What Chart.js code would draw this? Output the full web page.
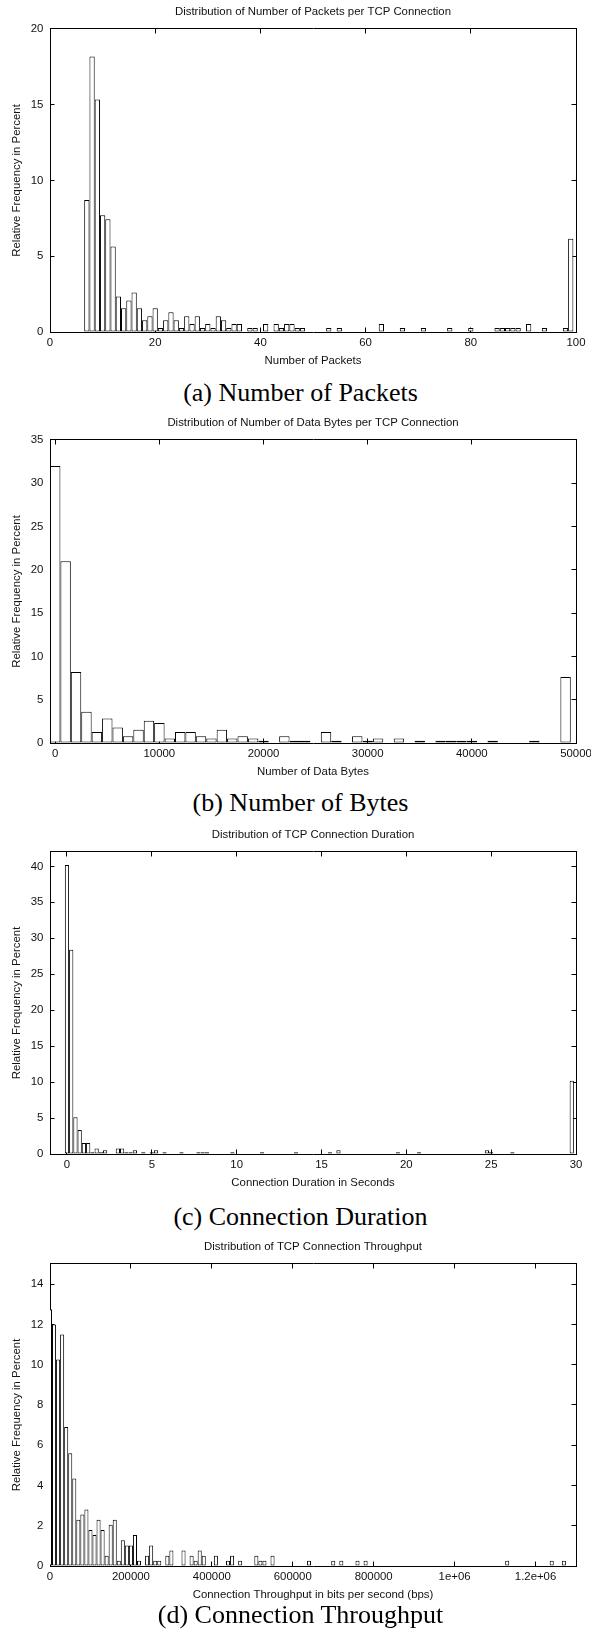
<!DOCTYPE html>
<html>
<head>
<meta charset="utf-8">
<script src="https://cdn.jsdelivr.net/npm/chart.js@4.4.1/dist/chart.umd.min.js"></script>
<style>
  body { margin: 0; background: #fff; width: 591px; height: 1637px; position: relative; overflow: hidden; }
  canvas { position: absolute; left: 0; }
  .cap { position: absolute; left: 5px; width: 591px; height: 30px; line-height: 30px; text-align: center;
         font-family: "Liberation Serif", "Times New Roman", serif; font-size: 26px; color: #000; }
</style>
</head>
<body>
<script>
// (a) packets per connection, bins of 1 packet
const packetBins = [7, 8, 9, 10, 11, 12, 13, 14, 15, 16, 17, 18, 19, 20, 21, 22, 23, 24, 25, 26, 27, 28, 29, 30,
  31, 32, 33, 34, 35, 36, 38, 39, 41, 43, 44, 45, 46, 47, 48, 53, 55, 63, 67, 71, 76, 80, 85, 86, 87, 88, 89,
  91, 94, 98, 99];
const packetPct = [8.72, 18.18, 15.35, 7.7, 7.45, 5.65, 2.34, 1.56, 2.08, 2.6, 1.56, 0.78, 1.04, 1.56, 0.26, 0.78,
  1.3, 0.78, 0.26, 1.04, 0.52, 1.04, 0.26, 0.52, 0.26, 1.04, 0.78, 0.26, 0.52, 0.52, 0.26, 0.26, 0.52, 0.52,
  0.26, 0.52, 0.52, 0.26, 0.26, 0.26, 0.26, 0.52, 0.26, 0.26, 0.26, 0.26, 0.26, 0.26, 0.26, 0.26, 0.26,
  0.52, 0.26, 0.26, 6.15];
const packetTicksX = [0, 20, 40, 60, 80, 100];
const packetTicksY = [0, 5, 10, 15, 20];

// (b) data bytes per connection, bins of 1000 bytes
const byteBins = [0, 1000, 2000, 3000, 4000, 5000, 6000, 7000, 8000, 9000, 10000, 11000, 12000, 13000, 14000,
  15000, 16000, 17000, 18000, 19000, 20000, 22000, 23000, 24000, 26000, 27000, 29000, 30000, 31000, 33000,
  35000, 37000, 38000, 39000, 40000, 42000, 46000, 49000];
const bytePct = [32.0, 21.0, 8.2, 3.6, 1.28, 2.82, 1.78, 0.77, 1.54, 2.56, 2.3, 0.51, 1.28, 1.28, 0.77,
  0.51, 1.54, 0.51, 0.77, 0.51, 0.26, 0.77, 0.26, 0.26, 1.28, 0.26, 0.77, 0.26, 0.51, 0.51,
  0.26, 0.26, 0.26, 0.26, 0.26, 0.26, 0.26, 7.63];
const byteTicksX = [0, 10000, 20000, 30000, 40000, 50000];
const byteTicksY = [0, 5, 10, 15, 20, 25, 30, 35];

// (c) connection duration, bins of 0.25 s
const durationBins = [0, 0.25, 0.5, 0.75, 1.0, 1.25, 1.5, 1.75, 2.0, 2.25, 3.0, 3.25, 3.5, 3.75, 4.0, 4.5, 5.0,
  5.25, 5.75, 6.75, 7.75, 8.0, 8.25, 9.75, 11.5, 13.5, 15.5, 16.0, 19.5, 20.75, 24.75, 25.0, 26.25, 29.75];
const durationPct = [40.2, 28.4, 5.12, 3.33, 1.54, 1.54, 0.26, 0.77, 0.26, 0.51, 0.77, 0.77, 0.26, 0.26, 0.51, 0.26, 0.26,
  0.51, 0.26, 0.26, 0.26, 0.26, 0.26, 0.26, 0.26, 0.26, 0.26, 0.51, 0.26, 0.26, 0.51, 0.26, 0.26, 10.2];
const durationTicksX = [0, 5, 10, 15, 20, 25, 30];
const durationTicksY = [0, 5, 10, 15, 20, 25, 30, 35, 40];

// (d) throughput, bins of 10000 bps
const throughputBins = [0, 10000, 20000, 30000, 40000, 50000, 60000, 70000, 80000, 90000, 100000, 110000, 120000,
  130000, 140000, 150000, 160000, 170000, 180000, 190000, 200000, 210000, 220000, 240000, 250000, 260000, 270000,
  290000, 300000, 330000, 350000, 360000, 370000, 380000, 410000, 440000, 450000, 470000, 510000, 520000, 530000,
  550000, 640000, 700000, 720000, 760000, 780000, 1130000, 1240000, 1270000];
const throughputPct = [12.75, 12.0, 10.25, 11.5, 6.9, 5.6, 4.35, 2.3, 2.56, 2.8, 1.79, 1.54, 2.3,
  1.79, 0.51, 2.05, 2.3, 0.26, 1.28, 1.02, 1.02, 1.54, 0.26, 0.51, 1.02, 0.26, 0.26,
  0.51, 0.77, 0.77, 0.51, 0.26, 0.77, 0.51, 0.51, 0.26, 0.51, 0.26, 0.51, 0.26, 0.26,
  0.51, 0.26, 0.26, 0.26, 0.26, 0.26, 0.26, 0.26, 0.26];
const throughputTicksX = [0, 200000, 400000, 600000, 800000, 1000000, 1200000];
const throughputTicksY = [0, 2, 4, 6, 8, 10, 12, 14];

const yTitle = 'Relative Frequency in Percent';

const panels = [
  { title: 'Distribution of Number of Packets per TCP Connection', xTitle: 'Number of Packets',
    caption: '(a) Number of Packets', bins: packetBins, pct: packetPct, xTicks: packetTicksX, yTicks: packetTicksY,
    xMin: 0, xMax: 100, yMax: 20, top: 0, plotH: 303, capY: 393 },
  { title: 'Distribution of Number of Data Bytes per TCP Connection', xTitle: 'Number of Data Bytes',
    caption: '(b) Number of Bytes', bins: byteBins, pct: bytePct, xTicks: byteTicksX, yTicks: byteTicksY,
    xMin: -500, xMax: 50000, yMax: 35, top: 411, plotH: 303, capY: 803 },
  { title: 'Distribution of TCP Connection Duration', xTitle: 'Connection Duration in Seconds',
    caption: '(c) Connection Duration', bins: durationBins, pct: durationPct, xTicks: durationTicksX, yTicks: durationTicksY,
    xMin: -1, xMax: 30, yMax: 42, top: 823, plotH: 302, capY: 1217 },
  { title: 'Distribution of TCP Connection Throughput', xTitle: 'Connection Throughput in bits per second (bps)',
    caption: '(d) Connection Throughput', bins: throughputBins, pct: throughputPct, xTicks: throughputTicksX, yTicks: throughputTicksY,
    xMin: 0, xMax: 1300000, yMax: 15, top: 1235, plotH: 302, capY: 1615 }
];

const INK = '#111';
const font = { family: '"Liberation Sans", Arial, Helvetica, sans-serif', size: 11.4, weight: 'normal' };

// gnuplot style numbers: 1e+06, 1.2e+06
function gnuLabel(v) {
  if (v >= 1e6) return (v / 1e6) + 'e+06';
  return String(v);
}

function frameGrid() {
  return { display: true, drawOnChartArea: false, drawTicks: true, tickLength: -4.5, color: '#000', lineWidth: 1, offset: false };
}
const frameBorder = { display: true, color: '#000', width: 1 };

function fixTicks(list) {
  return s => { s.ticks = list.map(v => ({ value: v })); };
}

panels.forEach(p => {
  const cv = document.createElement('canvas');
  cv.width = 591;
  cv.height = 29 + p.plotH + 40;
  cv.style.top = p.top + 'px';
  document.body.appendChild(cv);

  const cap = document.createElement('div');
  cap.className = 'cap';
  cap.style.top = (p.capY - 15) + 'px';
  cap.textContent = p.caption;
  document.body.appendChild(cap);

  const xRange = { type: 'linear', min: p.xMin, max: p.xMax, offset: false, afterBuildTicks: fixTicks(p.xTicks) };
  const yRange = { type: 'linear', min: 0, max: p.yMax, afterBuildTicks: fixTicks(p.yTicks) };

  new Chart(cv, {
    type: 'bar',
    data: {
      datasets: [{
        data: p.bins.map((b, i) => ({ x: b, y: p.pct[i] })),
        backgroundColor: '#fff',
        borderColor: '#000',
        borderWidth: 1,
        borderSkipped: false,
        categoryPercentage: 1,
        barPercentage: 1,
        inflateAmount: 0,
        clip: 0
      }]
    },
    options: {
      responsive: false,
      animation: false,
      events: [],
      layout: { padding: { left: 0, right: 15, top: 0, bottom: 0 } },
      plugins: {
        legend: { display: false },
        tooltip: { enabled: false },
        title: { display: true, text: p.title, fullSize: false, font: font, color: INK,
                 padding: { top: 4.6, bottom: 10.7 } }
      },
      scales: {
        x: Object.assign({}, xRange, {
          position: 'bottom',
          grid: frameGrid(),
          border: frameBorder,
          ticks: { autoSkip: false, maxRotation: 0, padding: 8.6, font: font, color: INK, callback: v => gnuLabel(v) },
          title: { display: true, text: p.xTitle, font: font, color: INK, padding: { top: 0, bottom: 4.5 } },
          afterFit: s => { s.height = 40; s.paddingLeft = 0; s.paddingRight = 0; }
        }),
        x2: Object.assign({}, xRange, {
          position: 'top',
          grid: frameGrid(),
          border: frameBorder,
          ticks: { display: false, autoSkip: false },
          afterFit: s => { s.height = 0; s.paddingLeft = 0; s.paddingRight = 0; }
        }),
        y: Object.assign({}, yRange, {
          position: 'left',
          grid: frameGrid(),
          border: frameBorder,
          ticks: { autoSkip: false, padding: 11.2, font: font, color: INK, callback: v => gnuLabel(v) },
          title: { display: true, text: yTitle, font: font, color: INK, padding: { top: 9.9, bottom: 0 } },
          afterFit: s => { s.width = 50; s.paddingTop = 0; s.paddingBottom = 0; }
        }),
        y2: Object.assign({}, yRange, {
          position: 'right',
          grid: frameGrid(),
          border: frameBorder,
          ticks: { display: false, autoSkip: false },
          afterFit: s => { s.width = 0; s.paddingTop = 0; s.paddingBottom = 0; }
        })
      }
    }
  });
});
</script>
</body>
</html>
